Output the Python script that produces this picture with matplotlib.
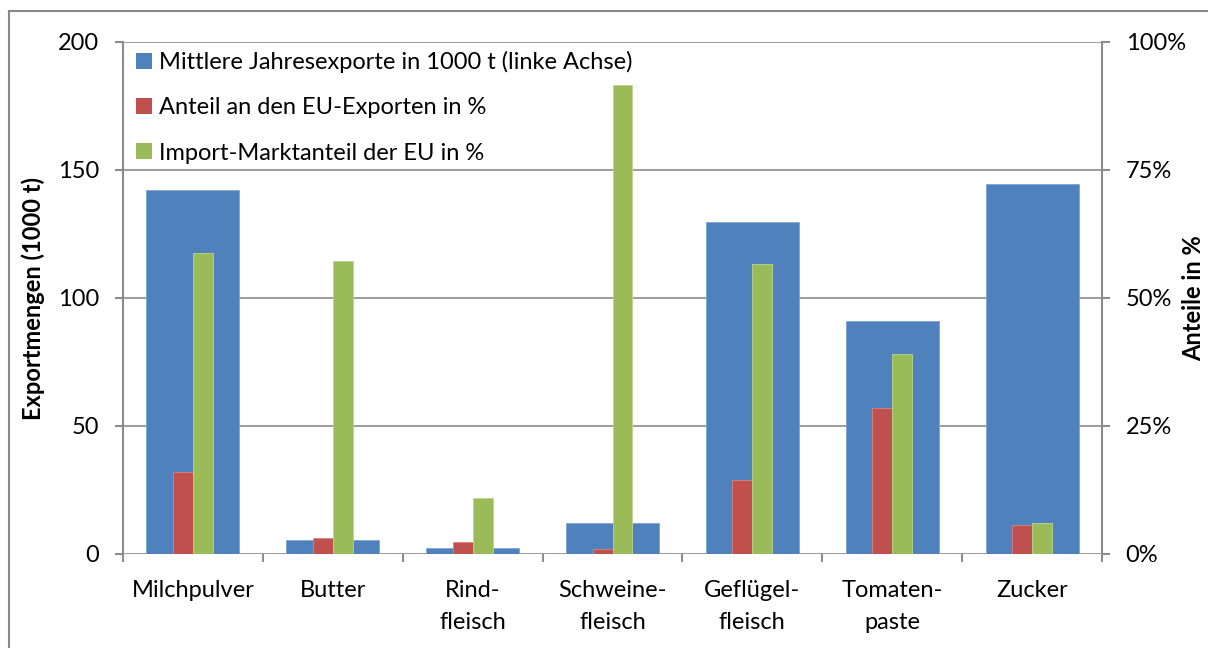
import matplotlib
matplotlib.use("Agg")
import matplotlib.pyplot as plt
import numpy as np
from matplotlib.lines import Line2D
from matplotlib.patches import Patch

plt.rcParams['font.family'] = ['Lato', 'DejaVu Sans']

categories = ["Milchpulver", "Butter", "Rind-\nfleisch", "Schweine-\nfleisch",
              "Geflügel-\nfleisch", "Tomaten-\npaste", "Zucker"]
exports_kt = [142.0, 5.5, 2.5, 12.0, 129.5, 91.0, 144.5]
share_eu_exports = [16.0, 3.1, 2.3, 0.9, 14.5, 28.5, 5.6]
import_market_share = [58.7, 57.2, 10.9, 91.6, 56.7, 39.0, 6.0]

legend_labels = ["Mittlere Jahresexporte in 1000 t (linke Achse)",
                 "Anteil an den EU-Exporten in %",
                 "Import-Marktanteil der EU in %"]
left_ticks = [0, 50, 100, 150, 200]
right_ticks = [0, 25, 50, 75, 100]
right_ticklabels = ["0%", "25%", "50%", "75%", "100%"]

BLUE = "#4F81BD"
RED = "#C0504D"
GREEN = "#9BBB59"
GRID = "#8C8C8C"
FS = 17

fig = plt.figure(figsize=(12.08, 6.48), dpi=100)
ax = fig.add_axes([123/1208, 1 - 554/648, (1102-123)/1208, (554-42)/648])
ax2 = ax.twinx()

x = np.arange(len(categories))
ax.bar(x, exports_kt, width=0.665, color=BLUE, edgecolor="#7FA3D3", linewidth=0.6, zorder=3)
bw = 0.142
ax2.bar(x - bw/2, share_eu_exports, width=bw, color=RED, edgecolor="#D98480", linewidth=0.6, zorder=3)
ax2.bar(x + bw/2, import_market_share, width=bw, color=GREEN, edgecolor="#BCD48F", linewidth=0.6, zorder=3)

ax.set_xlim(-0.5, len(categories) - 0.5)
ax.set_ylim(0, 200)
ax2.set_ylim(0, 100)
ax.set_yticks(left_ticks)
ax2.set_yticks(right_ticks)
ax2.set_yticklabels(right_ticklabels)

ax.yaxis.grid(True, color=GRID, linewidth=1.2, zorder=0)
ax.set_axisbelow(True)

for a in (ax, ax2):
    for s in a.spines.values():
        s.set_visible(False)
ax.spines['left'].set_visible(True)
ax.spines['left'].set_color(GRID)
ax.spines['left'].set_linewidth(1.5)
ax2.spines['right'].set_visible(True)
ax2.spines['right'].set_color(GRID)
ax2.spines['right'].set_linewidth(1.5)

ax.set_xticks(x)
ax.set_xticklabels(categories, fontsize=FS, linespacing=1.6)
ax.set_xticks(np.arange(len(categories) + 1) - 0.5, minor=True)
ax.tick_params(axis='x', which='major', length=0, pad=19)
ax.tick_params(axis='x', which='minor', length=6, width=1.5, color=GRID, direction='out')
ax.tick_params(axis='y', length=6, width=1.5, color=GRID, labelsize=FS, pad=11)
ax2.tick_params(axis='y', length=6, width=1.5, color=GRID, labelsize=FS, pad=11)

ax.set_ylabel("Exportmengen (1000 t)", fontsize=FS, fontweight='bold')
ax2.set_ylabel("Anteile in %", fontsize=FS, fontweight='bold')
ax.yaxis.set_label_coords((45 - 123) / 979, 0.5)
ax2.yaxis.set_label_coords((1182 - 123) / 979, 0.5)

handles = [Patch(facecolor=BLUE), Patch(facecolor=RED), Patch(facecolor=GREEN)]
leg = ax2.legend(handles, legend_labels, loc='upper left', bbox_to_anchor=(0.0, 1.008),
                 frameon=False, fontsize=FS, handlelength=0.68, handleheight=0.68,
                 handletextpad=0.3, labelspacing=1.03, borderaxespad=0.15)

# outer chart frame
fig.add_artist(Line2D([9/1208, 1], [1 - 11/648, 1 - 11/648], color="#888888", linewidth=1.5))
fig.add_artist(Line2D([9/1208, 9/1208], [0, 1 - 11/648], color="#888888", linewidth=1.5))

fig.savefig("out.png", dpi=100)
